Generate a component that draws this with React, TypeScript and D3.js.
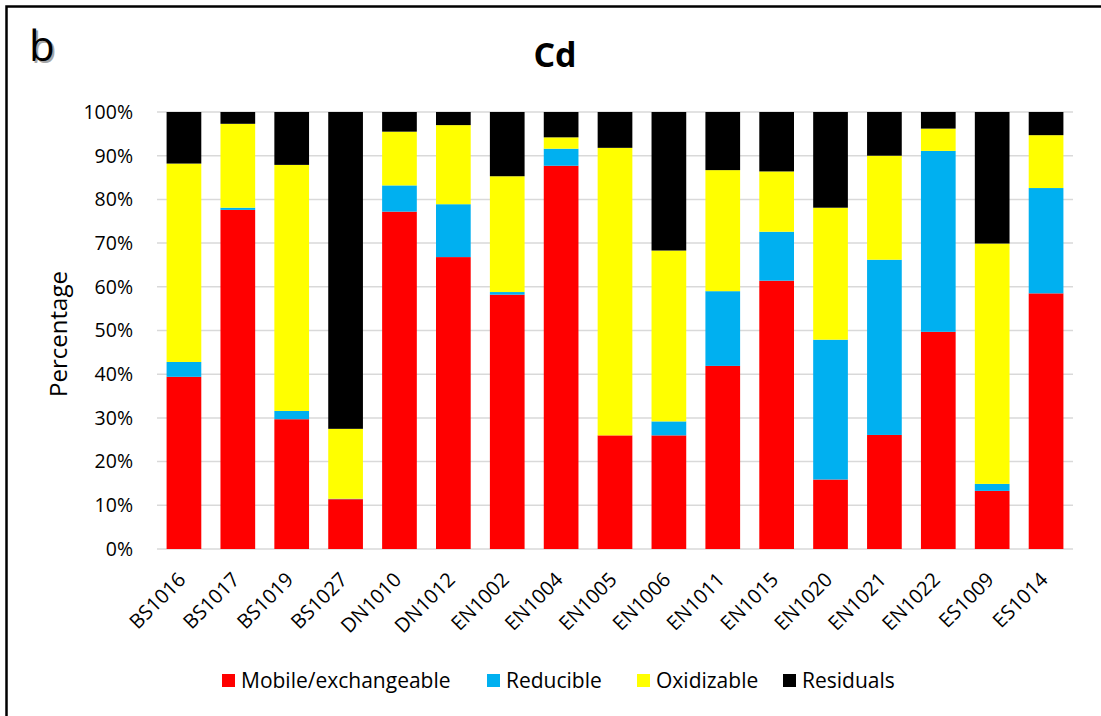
import React from "react";
import * as d3 from "d3";

const categories = ["BS1016","BS1017","BS1019","BS1027","DN1010","DN1012","EN1002","EN1004","EN1005","EN1006","EN1011","EN1015","EN1020","EN1021","EN1022","ES1009","ES1014"];
const mobile =     [39.4, 77.6, 29.7, 11.4, 77.2, 66.8, 58.2, 87.7, 26.0, 26.0, 41.9, 61.4, 15.9, 26.1, 49.7, 13.3, 58.5];
const reducible =  [3.4, 0.5, 1.9, 0.1, 6.0, 12.1, 0.6, 3.9, 0.0, 3.2, 17.1, 11.2, 32.0, 40.1, 41.4, 1.6, 24.1];
const oxidizable = [45.4, 19.2, 56.3, 16.0, 12.3, 18.1, 26.5, 2.6, 65.8, 39.1, 27.7, 13.8, 30.2, 23.8, 5.1, 55.0, 12.1];
const residuals =  [11.8, 2.7, 12.1, 72.5, 4.5, 3.0, 14.7, 5.8, 8.2, 31.7, 13.3, 13.6, 21.9, 10.0, 3.8, 30.1, 5.3];
const seriesNames = ["Mobile/exchangeable", "Reducible", "Oxidizable", "Residuals"];
const seriesColors = ["#FF0000", "#00B0F0", "#FFFF00", "#000000"];
const yTicks = [0, 10, 20, 30, 40, 50, 60, 70, 80, 90, 100];

const FONT = "'Open Sans', sans-serif";

export default function App() {
  const W = 1101, H = 716;
  const left = 157, right = 1073, top = 112, bottom = 549;
  const x = d3.scaleBand<string>().domain(categories).range([left, right]).paddingInner(0.356).paddingOuter(0.178);
  const y = d3.scaleLinear().domain([0, 100]).range([bottom, top]);

  const rows = categories.map((c, i) => ({
    cat: c,
    s0: mobile[i], s1: reducible[i], s2: oxidizable[i], s3: residuals[i],
  }));
  const stack = d3.stack<any>().keys(["s0", "s1", "s2", "s3"]);
  const layers = stack(rows);

  const legendX = [222, 487, 637, 783];

  return (
    <svg width={W} height={H} style={{ position: "absolute", left: 0, top: 0, background: "#fff" }} fontFamily={FONT}>
      <rect x={0} y={0} width={W} height={H} fill="#fff" />
      <path d={`M6.5,${H + 5} V6.5 H${W + 5}`} fill="none" stroke="#000" strokeWidth={2.5} />
      {/* panel letter */}
      <text x={31} y={63} fontSize={42} fill="#a6a6a6" fontFamily={FONT}>b</text>
      <text x={29} y={61} fontSize={42} fill="#000" fontFamily={FONT}>b</text>
      {/* title */}
      <text x={555} y={67} fontSize={34} fontWeight="bold" textAnchor="middle">Cd</text>
      {/* gridlines */}
      {yTicks.map((t) => (
        <line key={t} x1={left} x2={right} y1={y(t)} y2={y(t)} stroke="#d9d9d9" strokeWidth={1.5} />
      ))}
      {yTicks.map((t) => (
        <text key={"l" + t} x={133} y={y(t)} dy="0.35em" fontSize={19.5} textAnchor="end" fill="#000">{t}%</text>
      ))}
      <text transform={`translate(67,334) rotate(-90)`} fontSize={24} textAnchor="middle" fill="#000">Percentage</text>
      {/* bars */}
      {layers.map((layer, li) => (
        <g key={li} fill={seriesColors[li]}>
          {layer.map((d: any, i: number) => (
            <rect key={i} x={x(categories[i])} width={x.bandwidth()} y={y(d[1])} height={Math.max(0, y(d[0]) - y(d[1]))} />
          ))}
        </g>
      ))}
      {/* x labels */}
      {categories.map((c) => {
        const cx = (x(c) as number) + x.bandwidth() / 2;
        return (
          <text key={c} transform={`translate(${cx + 3},${581}) rotate(-45)`} fontSize={20} textAnchor="end" fill="#000">{c}</text>
        );
      })}
      {/* legend */}
      {seriesNames.map((n, i) => (
        <g key={n}>
          <rect x={legendX[i]} y={674} width={13} height={13} fill={seriesColors[i]} />
          <text x={legendX[i] + 19} y={688} fontSize={21} fill="#000">{n}</text>
        </g>
      ))}
    </svg>
  );
}
